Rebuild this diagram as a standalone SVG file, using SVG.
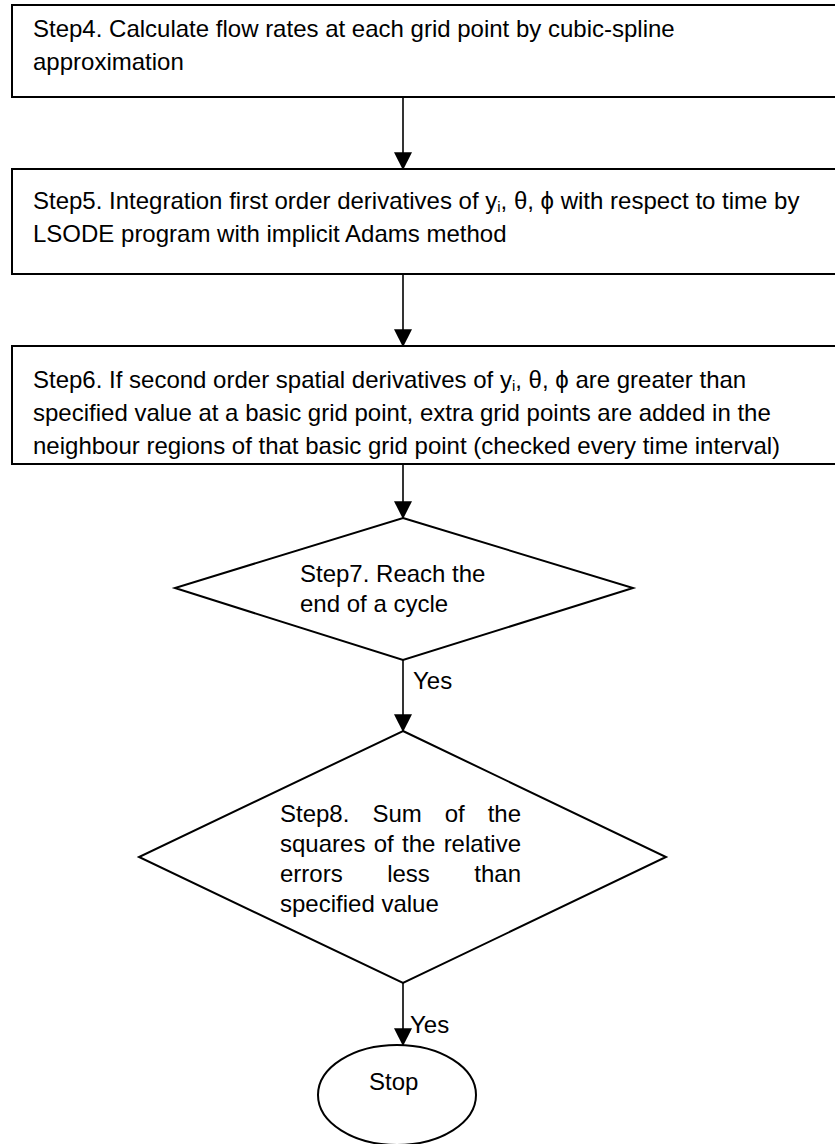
<svg xmlns="http://www.w3.org/2000/svg" width="835" height="1144" viewBox="0 0 835 1144">
<style>
.shape{fill:#fff;stroke:#000;stroke-width:2}
.t{font-family:"Liberation Sans",Arial,"DejaVu Sans",sans-serif;font-size:24px;fill:#000}
.e{text-anchor:end}
.c{stroke:#000;stroke-width:1.6;fill:none;marker-end:url(#ah)}
</style>
<defs>
<marker id="ah" markerUnits="userSpaceOnUse" markerWidth="18" markerHeight="18" viewBox="0 0 16 16" refX="15" refY="8" orient="auto">
<path d="M0,0 L16,8 L0,16 Z" fill="#000"/>
</marker>
</defs>
<g id="connectors">
<line class="c" x1="403" y1="97" x2="403" y2="169"/>
<line class="c" x1="403" y1="274" x2="403" y2="346"/>
<line class="c" x1="403" y1="464" x2="403" y2="518"/>
<line class="c" x1="403" y1="660" x2="403" y2="731"/>
<line class="c" x1="403" y1="983" x2="403" y2="1045"/>
<text class="t" x="413" y="689">Yes</text>
<text class="t" x="410" y="1033">Yes</text>
</g>
<g id="step4">
<rect class="shape" x="12" y="5" width="840" height="92"/>
<text class="t" x="33" y="37">Step4. Calculate flow rates at each grid point by cubic-spline</text>
<text class="t" x="33" y="70">approximation</text>
</g>
<g id="step5">
<rect class="shape" x="12" y="169" width="840" height="105"/>
<text class="t" x="33" y="209">Step5. Integration first order derivatives of y<tspan font-size="15" dy="3">i</tspan><tspan dy="-3">, θ, ϕ with respect to time by</tspan></text>
<text class="t" x="33" y="242">LSODE program with implicit Adams method</text>
</g>
<g id="step6">
<rect class="shape" x="12" y="346" width="840" height="118"/>
<text class="t" x="33" y="388">Step6. If second order spatial derivatives of y<tspan font-size="15" dy="3">i</tspan><tspan dy="-3">, θ, ϕ are greater than</tspan></text>
<text class="t" x="33" y="421">specified value at a basic grid point, extra grid points are added in the</text>
<text class="t" x="33" y="454">neighbour regions of that basic grid point (checked every time interval)</text>
</g>
<g id="step7">
<polygon class="shape" points="403,518 633,588 403,660 175,588"/>
<text class="t" x="300" y="582">Step7. Reach the</text>
<text class="t" x="300" y="612">end of a cycle</text>
</g>
<g id="step8">
<polygon class="shape" points="403,731 666,857 403,983 139,857"/>
<text class="t" y="822"><tspan x="280">Step8.</tspan><tspan x="372.4">Sum</tspan><tspan x="444.7">of</tspan></text>
<text class="t e" x="521" y="822">the</text>
<text class="t" y="852"><tspan x="280">squares</tspan><tspan x="373.7">of</tspan><tspan x="402">the</tspan></text>
<text class="t e" x="521" y="852">relative</text>
<text class="t" y="882"><tspan x="280">errors</tspan><tspan x="387.2">less</tspan></text>
<text class="t e" x="521" y="882">than</text>
<text class="t" x="280" y="912">specified value</text>
</g>
<g id="stop">
<ellipse class="shape" cx="397" cy="1095" rx="79" ry="50"/>
<text class="t" x="369" y="1090">Stop</text>
</g>
</svg>
